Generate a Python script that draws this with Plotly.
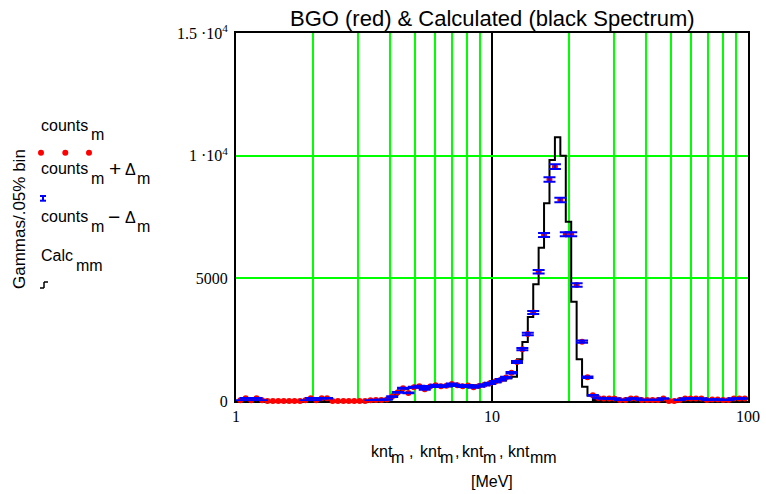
import plotly.graph_objects as go

# ---------------- data ----------------
energy = [1.040, 1.091, 1.146, 1.203, 1.264, 1.327, 1.393, 1.463, 1.536, 1.613,
          1.693, 1.778, 1.867, 1.960, 2.058, 2.161, 2.269, 2.383, 2.502, 2.627,
          2.758, 2.896, 3.041, 3.193, 3.353, 3.520, 3.696, 3.881, 4.075, 4.279,
          4.493, 4.717, 4.953, 5.201, 5.461, 5.734, 6.021, 6.322, 6.638, 6.970,
          7.318, 7.684, 8.068, 8.472, 8.895, 9.340, 9.807, 10.30, 10.81, 11.35,
          11.92, 12.52, 13.14, 13.80, 14.49, 15.21, 15.97, 16.77, 17.61, 18.49,
          19.42, 20.39, 21.41, 22.48, 23.60, 24.78, 26.02, 27.32, 28.69, 30.12,
          31.63, 33.21, 34.87, 36.61, 38.44, 40.37, 42.39, 44.50, 46.73, 49.07,
          51.52, 54.10, 56.80, 59.64, 62.62, 65.75, 69.04, 72.49, 76.12, 79.92,
          83.92, 88.12, 92.52, 97.15]

counts = [30, 110, 30, 110, 30, 0, 0, 0, 0, 0,
          0, 0, 30, 110, 30, 110, 110, 0, 0, 0,
          0, 0, 0, 0, 30, 40, 40, 60, 180, 350,
          520, 330, 560, 600, 480, 590, 640, 600, 620, 690,
          640, 600, 630, 560, 610, 660, 720, 790, 870, 960,
          1150, 1590, 2110, 2730, 3610, 5270, 6770, 9030, 9550, 8190,
          6800, 6800, 4730, 2420, 970, 230, 120, 100, 100, 100,
          40, 40, 100, 100, 40, 40, 40, 40, 100, 0,
          0, 40, 100, 100, 100, 100, 40, 60, 60, 40,
          40, 100, 100, 100]

delta = [5.5, 10.5, 5.5, 10.5, 5.5, 0, 0, 0, 0, 0,
         0, 0, 5.5, 10.5, 5.5, 10.5, 10.5, 0, 0, 0,
         0, 0, 0, 0, 5.5, 6.3, 6.3, 7.7, 13.4, 18.7,
         22.8, 18.2, 23.7, 24.5, 21.9, 24.3, 25.3, 24.5, 24.9, 26.3,
         25.3, 24.5, 25.1, 23.7, 24.7, 25.7, 26.8, 28.1, 29.5, 31.0,
         33.9, 39.9, 45.9, 52.2, 60.1, 72.6, 82.3, 95.0, 97.7, 90.5,
         82.5, 82.5, 68.8, 49.2, 31.1, 15.2, 11.0, 10.0, 10.0, 10.0,
         6.3, 6.3, 10.0, 10.0, 6.3, 6.3, 6.3, 6.3, 10.0, 0,
         0, 6.3, 10.0, 10.0, 10.0, 10.0, 6.3, 7.7, 7.7, 6.3,
         6.3, 10.0, 10.0, 10.0]

calc = [0, 0, 0, 0, 0, 0, 0, 0, 0, 0,
        0, 0, 0, 0, 0, 0, 0, 0, 0, 0,
        0, 0, 0, 0, 0, 0, 20, 80, 250, 420,
        500, 530, 550, 560, 570, 580, 590, 600, 600, 610,
        610, 620, 630, 640, 650, 670, 700, 760, 840, 925,
        990, 1700, 2400, 3420, 4760, 6250, 8060, 9820, 10750, 10000,
        7310, 4050, 1700, 580, 225, 40, 0, 0, 0, 0,
        0, 0, 0, 0, 0, 0, 0, 0, 0, 0,
        0, 0, 0, 0, 0, 0, 0, 0, 0, 0,
        0, 0, 0, 0]

x_tickvals = [1, 10, 100]
x_ticktext = ["1", "10", "100"]
x_minor = [2, 3, 4, 5, 6, 7, 8, 9, 20, 30, 40, 50, 60, 70, 80, 90]
y_tickvals = [0, 5000, 10000, 15000]
y_ticktext = ["0", "5000", "1 \u00b710<sup>4</sup>", "1.5 \u00b710<sup>4</sup>"]

title_text = "BGO (red) & Calculated (black Spectrum)"
y_title = "Gammas/.05% bin"

# ---------------- geometry (pixels) ----------------
FW, FH = 766, 494
L, R, T, B = 236, 748, 33, 401
PW, PH = R - L, B - T
SANS = "Liberation Sans"
SERIF = "Liberation Serif"
GREEN = "#00ff00"


def px(xp):
    return (xp - L) / PW


def py(yp):
    return (B - yp) / PH


fig = go.Figure()

fig.add_trace(go.Scatter(x=energy, y=calc, mode="lines",
                         line=dict(color="black", width=2, shape="hv"),
                         hoverinfo="skip"))
fig.add_trace(go.Scatter(x=energy, y=counts, mode="markers",
                         marker=dict(color="#ff0000", size=6, line=dict(width=0)),
                         cliponaxis=False))
err_x = [e for e, d in zip(energy, delta) if d > 0]
err_y = [c for c, d in zip(counts, delta) if d > 0]
err_d = [d for d in delta if d > 0]
fig.add_trace(go.Scatter(x=err_x, y=err_y, mode="markers",
                         marker=dict(size=1, opacity=0),
                         error_y=dict(type="data", array=err_d, color="#0000ff",
                                      thickness=2, width=6),
                         cliponaxis=False))

fig.update_layout(
    template="none",
    width=FW, height=FH,
    margin=dict(l=L, r=FW - R, t=T, b=FH - B, pad=0, autoexpand=False),
    paper_bgcolor="white", plot_bgcolor="white",
    showlegend=False,
    xaxis=dict(type="log", range=[0, 2], tickmode="array", automargin=False,
               tickvals=x_tickvals, ticktext=x_ticktext,
               showgrid=True, gridcolor="black", gridwidth=2,
               minor=dict(tickmode="array", tickvals=x_minor, showgrid=True,
                          gridcolor=GREEN, gridwidth=1.6, ticks=""),
               showline=True, mirror=True, linecolor="black", linewidth=2,
               ticks="", zeroline=False, layer="below traces",
               tickfont=dict(family=SERIF, size=16, color="black"),
               ticklabelstandoff=0),
    yaxis=dict(range=[0, 15000], tickmode="array", automargin=False,
               tickvals=y_tickvals, ticktext=y_ticktext,
               showgrid=True, gridcolor=GREEN, gridwidth=1.6,
               showline=True, mirror=True, linecolor="black", linewidth=2,
               ticks="", zeroline=False, layer="below traces",
               tickfont=dict(family=SERIF, size=16, color="black"),
               ticklabelstandoff=3),
)


def txt(s, xl, base, size=16, family=SANS, anchor="left"):
    fig.add_annotation(text=s, xref="paper", yref="paper",
                       x=px(xl - 2 if anchor == "left" else xl),
                       y=py(base - 0.35 * size),
                       xanchor=anchor, yanchor="middle", showarrow=False,
                       borderpad=0, borderwidth=0,
                       font=dict(family=family, size=size, color="black"))


# title
txt(title_text, (L + R) / 2, 26, size=22, anchor="center")

# y axis title
fig.add_annotation(text=y_title, xref="paper", yref="paper",
                   x=px(19), y=py(219), xanchor="center", yanchor="middle",
                   textangle=-90, showarrow=False,
                   font=dict(family=SANS, size=17, color="black"))

# legend texts
txt("counts", 42.7, 130.7); txt("m", 93, 140)
txt("counts", 42.7, 174); txt("m", 93, 184); txt("+", 111, 176, size=21)
txt("\u0394", 127, 175); txt("m", 138.5, 184)
txt("counts", 42.7, 221.7); txt("m", 93, 231.7); txt("\u2212", 110, 223.7, size=21)
txt("\u0394", 127, 222.7); txt("m", 138.5, 231.7)
txt("Calc", 42.7, 260.7); txt("mm", 78, 270.7)

# legend symbols
for cx in (41, 65.3, 89):
    fig.add_shape(type="circle", xref="paper", yref="paper",
                  x0=px(cx - 3), x1=px(cx + 3), y0=py(152.7 + 3), y1=py(152.7 - 3),
                  fillcolor="#ff0000", line=dict(width=0))
for yy in (196, 200.7):
    fig.add_shape(type="line", xref="paper", yref="paper",
                  x0=px(40), x1=px(46), y0=py(yy), y1=py(yy),
                  line=dict(color="#0000ff", width=2))
fig.add_shape(type="line", xref="paper", yref="paper",
              x0=px(43), x1=px(43), y0=py(196), y1=py(200.7),
              line=dict(color="#0000ff", width=2))
for (xa, ya, xb, yb) in ((40, 288, 44, 288), (44, 288, 44, 282), (44, 282, 48, 282)):
    fig.add_shape(type="line", xref="paper", yref="paper",
                  x0=px(xa), x1=px(xb), y0=py(ya), y1=py(yb),
                  line=dict(color="black", width=1.5))

# x axis title
for s, xl, base in (("knt", 372.7, 456.7), ("m", 393.3, 463.3), (",", 411, 456.7),
                    ("knt", 421.7, 456.7), ("m", 441.7, 463.3), (",", 457, 456.7),
                    ("knt", 464, 456.7), ("m", 485, 463.3), (",", 501, 456.7),
                    ("knt", 510, 456.7), ("mm", 531.7, 463.3)):
    txt(s, xl, base)
txt("[MeV]", 491.7, 487, anchor="center")

fig.write_html("out.html")
